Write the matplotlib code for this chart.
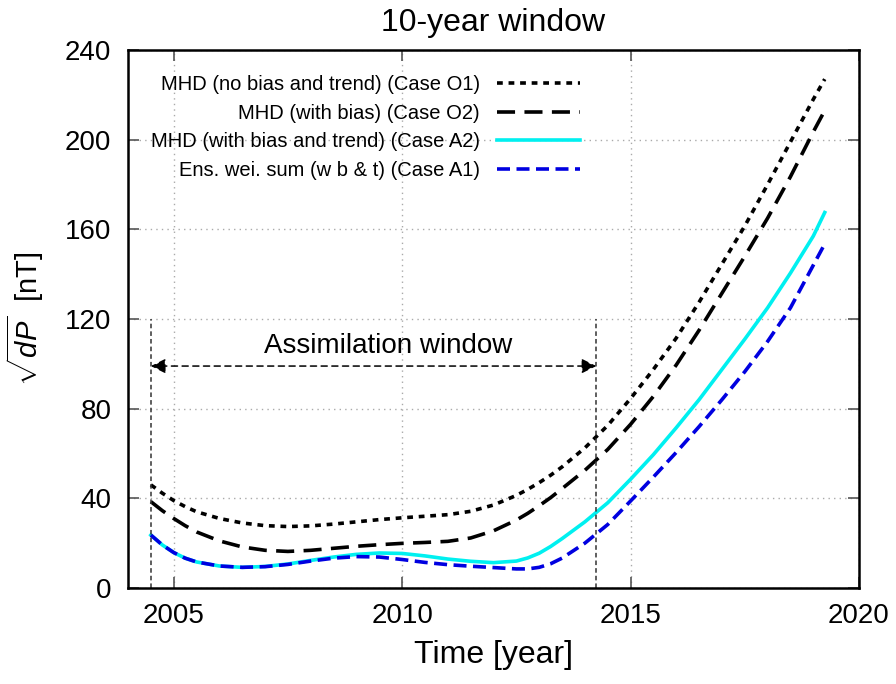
import matplotlib
matplotlib.use("Agg")
import matplotlib.pyplot as plt

plt.rcParams['font.family'] = ['Liberation Sans', 'DejaVu Sans']
plt.rcParams['mathtext.fontset'] = 'custom'
plt.rcParams['mathtext.it'] = 'Liberation Sans:italic'
plt.rcParams['mathtext.rm'] = 'Liberation Sans'

# values
years = [2004.5, 2004.75, 2005.0, 2005.25, 2005.5, 2006.0, 2006.5, 2007.0,
         2007.5, 2008.0, 2008.5, 2009.0, 2009.5, 2010.0, 2010.5, 2011.0,
         2011.5, 2012.0, 2012.5, 2012.75, 2013.0, 2013.25, 2013.5, 2014.0,
         2014.5, 2015.0, 2015.5, 2016.0, 2016.5, 2017.0, 2017.5, 2018.0,
         2018.5, 2019.0, 2019.25]

case_o1 = [46, 42.3, 39, 36.3, 34, 31, 29, 27.8,
           27.4, 27.7, 28.5, 29.5, 30.5, 31.3, 32, 32.7,
           34.2, 37, 41.3, 44, 47, 50.3, 54, 62.5,
           72.5, 84.5, 97.5, 111.5, 127.5, 144.5, 161.5, 180,
           199, 218, 227]
case_o2 = [38.5, 34.5, 31, 27.8, 25, 21, 18.3, 16.8,
           16.3, 16.8, 17.7, 18.6, 19.3, 19.9, 20.3, 20.8,
           22.3, 25.5, 30.3, 33.3, 36.7, 40.3, 44.3, 52.5,
           61.8, 73, 85.5, 99.5, 115, 131.5, 148, 165,
           183.5, 203.5, 213]
case_a2 = [23.6, 19.2, 15.8, 13.3, 11.6, 9.8, 9.2, 9.6,
           10.7, 12.3, 13.8, 15, 15.6, 15.4, 14.3, 12.9,
           11.9, 11.3, 12, 13.4, 15.5, 18.5, 22, 29.5,
           38, 48.5, 59.5, 71.5, 84, 97.5, 111, 125,
           140.5, 157, 167.5]
case_a1 = [23.6, 19.2, 15.8, 13.3, 11.6, 9.8, 9.2, 9.5,
           10.5, 12, 13.3, 14, 13.8, 12.7, 11.4, 10.4,
           9.7, 9.1, 8.5, 8.5, 9.2, 10.8, 13.3, 20,
           28.3, 38.8, 49.5, 60.5, 72, 84, 96.5, 110,
           125, 144, 153.5]

labels = ['MHD (no bias and trend) (Case O1)',
          'MHD (with bias) (Case O2)',
          'MHD (with bias and trend) (Case A2)',
          'Ens. wei. sum (w b & t) (Case A1)']

win_start, win_end, win_top, arrow_y = 2004.5, 2014.25, 120, 99

fig = plt.figure(figsize=(8.96, 6.84), dpi=100)
ax = fig.add_axes([0.1429, 0.1404, 0.8158, 0.7865])

ax.plot(years, case_o1, color='black', lw=2.6, dashes=(1.6, 1.6), label=labels[0])
ax.plot(years, case_o2, color='black', lw=2.6, dashes=(5, 2.6), label=labels[1])
ax.plot(years, case_a2, color='#00f0f0', lw=2.6, label=labels[2])
ax.plot(years, case_a1, color='#0000e0', lw=2.6, dashes=(3.6, 1.8), label=labels[3])

# assimilation window
for xv in (win_start, win_end):
    ax.plot([xv, xv], [0, win_top], color='#333333', lw=1.1, dashes=(3, 2))
ax.annotate('', xy=(win_start, arrow_y), xytext=(win_end, arrow_y),
            arrowprops=dict(arrowstyle='<|-|>', color='black', lw=1.1,
                            linestyle=(0, (4, 3)), mutation_scale=22,
                            shrinkA=0, shrinkB=0))
ax.text(2009.7, 108, 'Assimilation window', fontsize=20, ha='center', va='center')

ax.set_xlim(2004, 2020)
ax.set_ylim(0, 240)
ax.set_xticks([2005, 2010, 2015, 2020])
ax.set_yticks(range(0, 241, 40))
ax.grid(True, color='#aaaaaa', linestyle=(0, (1, 3)), lw=1)
ax.tick_params(direction='in', length=8, width=1.2, top=True, right=True,
               labelsize=20, color='#555555')
ax.tick_params(axis='x', pad=11)
ax.tick_params(axis='y', pad=12)
for s in ax.spines.values():
    s.set_linewidth(1.8)

ax.set_title('10-year window', fontsize=23, pad=14)
ax.set_xlabel('Time [year]', fontsize=23, labelpad=8)
ax.set_ylabel(r'$\sqrt{dP}$  [nT]', fontsize=21, labelpad=14)

leg = ax.legend(loc='upper right', bbox_to_anchor=(0.618, 0.953), frameon=False,
                markerfirst=False, fontsize=14.5, handlelength=4.1, handletextpad=0.85,
                labelspacing=0.47, borderpad=0, borderaxespad=0)

fig.savefig('out.png', dpi=100)
